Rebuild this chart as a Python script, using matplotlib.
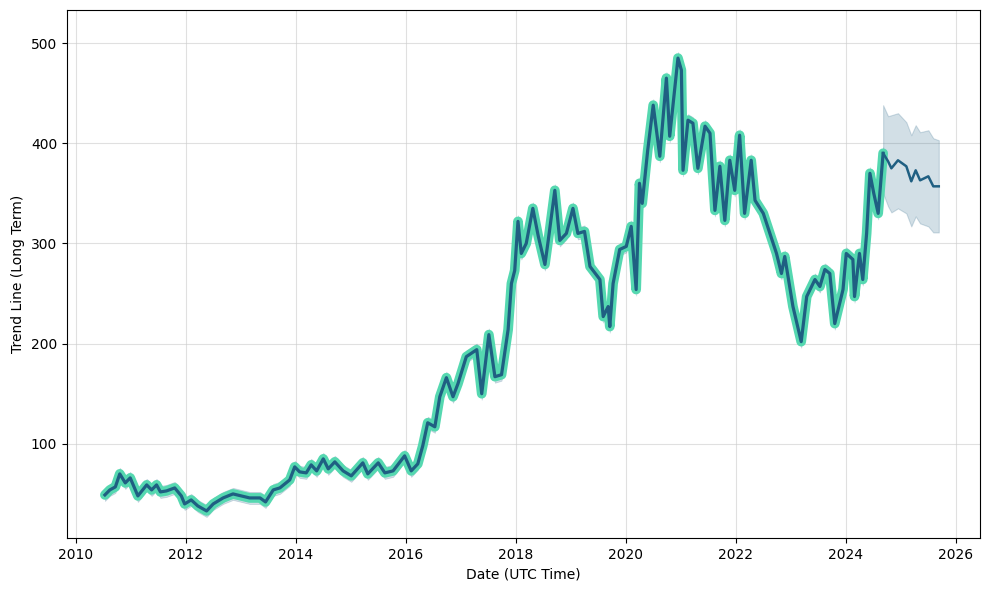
import numpy as np
import pandas as pd
import matplotlib
matplotlib.use("Agg")
import matplotlib.pyplot as plt
import matplotlib.dates as mdates

# ---- data (fractional years) ----
hist_years = [2010.53, 2010.62, 2010.72, 2010.80, 2010.90, 2010.99, 2011.13, 2011.29, 2011.38, 2011.47,
              2011.54, 2011.65, 2011.80, 2011.92, 2011.98, 2012.10, 2012.22, 2012.38, 2012.50, 2012.68,
              2012.86, 2013.01, 2013.16, 2013.35, 2013.45, 2013.59, 2013.71, 2013.89, 2013.98, 2014.07,
              2014.19, 2014.28, 2014.38, 2014.50, 2014.59, 2014.71, 2014.86, 2015.01, 2015.22, 2015.31,
              2015.50, 2015.62, 2015.77, 2015.98, 2016.10, 2016.22, 2016.31, 2016.40, 2016.53, 2016.62,
              2016.74, 2016.86, 2016.95, 2017.10, 2017.29, 2017.38, 2017.51, 2017.62, 2017.74, 2017.86,
              2017.92, 2017.98, 2018.04, 2018.10, 2018.19, 2018.31, 2018.41, 2018.53, 2018.59, 2018.71,
              2018.80, 2018.92, 2019.04, 2019.13, 2019.25, 2019.35, 2019.53, 2019.59, 2019.68, 2019.71,
              2019.77, 2019.89, 2020.01, 2020.10, 2020.19, 2020.25, 2020.30, 2020.40, 2020.50, 2020.62,
              2020.74, 2020.80, 2020.95, 2021.01, 2021.04, 2021.13, 2021.22, 2021.31, 2021.44, 2021.53,
              2021.62, 2021.71, 2021.80, 2021.89, 2021.98, 2022.07, 2022.16, 2022.28, 2022.35, 2022.50,
              2022.62, 2022.74, 2022.83, 2022.89, 2023.04, 2023.19, 2023.29, 2023.44, 2023.53, 2023.62,
              2023.71, 2023.80, 2023.95, 2024.01, 2024.13, 2024.16, 2024.25, 2024.31, 2024.38, 2024.44,
              2024.51, 2024.59, 2024.68]
hist_values = [49, 54, 57, 70, 61, 66, 48, 59, 54, 59,
               52, 53, 56, 48, 40, 44, 38, 33, 40, 46,
               50, 48, 46, 46, 42, 54, 56, 64, 77, 72,
               71, 79, 73, 85, 75, 82, 73, 68, 81, 70,
               81, 71, 73, 88, 73, 80, 98, 121, 117, 147,
               166, 147, 160, 187, 194, 150, 209, 167, 169, 214,
               260, 273, 322, 290, 300, 335, 307, 279, 303, 353,
               303, 310, 335, 310, 312, 277, 264, 227, 237, 217,
               260, 294, 297, 317, 254, 360, 340, 393, 438, 387,
               465, 407, 485, 473, 373, 423, 420, 375, 417, 410,
               333, 377, 323, 383, 353, 408, 330, 383, 343, 330,
               310, 290, 270, 287, 237, 202, 247, 264, 257, 274,
               270, 220, 254, 290, 284, 247, 290, 264, 310, 370,
               350, 330, 390]
hist_band = 6  # half width of the historical uncertainty band

fc_years = [2024.68, 2024.77, 2024.83, 2024.95, 2025.10, 2025.19, 2025.27, 2025.35, 2025.50, 2025.59, 2025.69]
fc_values = [390, 382, 375, 383, 377, 362, 373, 363, 367, 357, 357]
fc_upper = [438, 427, 428, 430, 421, 408, 418, 411, 413, 405, 403]
fc_lower = [350, 337, 331, 335, 330, 317, 327, 320, 317, 311, 311]

x_label = "Date (UTC Time)"
y_label = "Trend Line (Long Term)"


def to_dates(years):
    out = []
    for y in years:
        yi = int(np.floor(y))
        out.append(pd.Timestamp(year=yi, month=1, day=1) + pd.Timedelta(days=(y - yi) * 365.25))
    return pd.to_datetime(out)


hd = to_dates(hist_years)
fd = to_dates(fc_years)
hv = np.array(hist_values, dtype=float)

dark = "#1f5f82"
turq = "#55d8b0"

fig = plt.figure(figsize=(9.9, 5.9), dpi=100)
ax = fig.add_axes([67 / 990, 1 - 538 / 590, (980 - 67) / 990, (538 - 10) / 590])
ax.fill_between(hd, hv - hist_band, hv + hist_band, color=dark, alpha=0.2, linewidth=0.6)
ax.fill_between(fd, fc_lower, fc_upper, color=dark, alpha=0.2, linewidth=0.8)
ax.plot(hd, hv, color=turq, linewidth=7, solid_capstyle="round", solid_joinstyle="round", zorder=3)
ax.plot(hd, hv, color=dark, linewidth=2.3, zorder=4)
ax.plot(fd, fc_values, color=dark, linewidth=1.8, zorder=4)

ax.xaxis.set_major_locator(mdates.YearLocator(2))
ax.xaxis.set_major_formatter(mdates.DateFormatter("%Y"))
ax.set_xlim(to_dates([2009.84])[0], to_dates([2026.44])[0])
ax.set_ylim(6, 533)
ax.set_yticks([100, 200, 300, 400, 500])
ax.grid(True, color="#cccccc", alpha=0.6, linewidth=0.8)
ax.set_axisbelow(True)
ax.set_xlabel(x_label)
ax.set_ylabel(y_label)
fig.savefig("out.png", dpi=100)
